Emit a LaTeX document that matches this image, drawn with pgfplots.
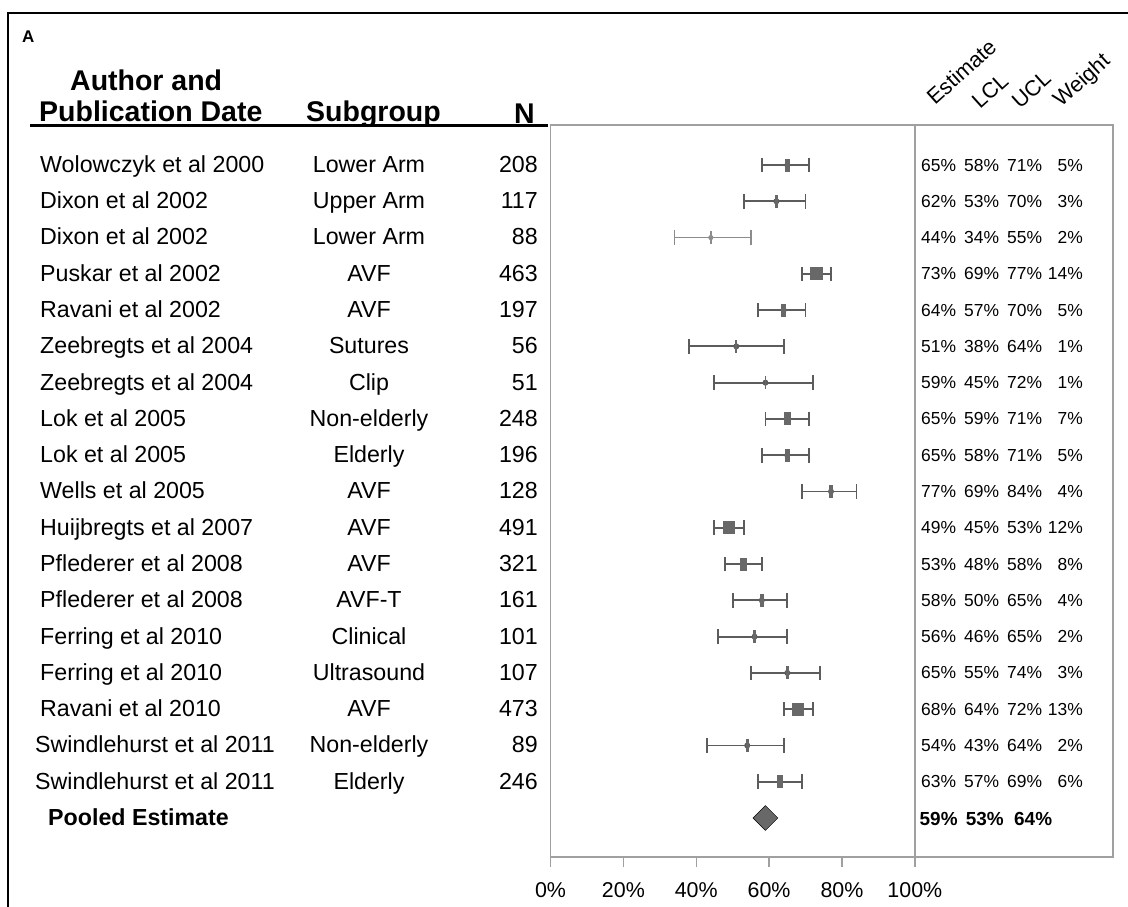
\documentclass[border=0pt]{standalone}
\usepackage{pgfplots}
\pgfplotsset{compat=1.18}
\usepackage{pgfplotstable}
\usepackage{fontspec}
\setmainfont{Liberation Sans}

\definecolor{barc}{HTML}{5C5C5C}
\definecolor{faintc}{HTML}{8C8C8C}
\definecolor{mkc}{HTML}{686868}
\definecolor{boxc}{HTML}{A0A0A0}

\newcommand\rowfont{\fontsize{23.3}{27}\selectfont}
\newcommand\headfont{\fontsize{28.6}{33}\selectfont\bfseries}
\newcommand\valfont{\fontsize{17.5}{20}\selectfont}
\newcommand\tickfont{\fontsize{21.5}{25}\selectfont}
\newcommand\rotfont{\fontsize{21.8}{25}\selectfont}

% box marker: width follows the study weight, height is fixed
\pgfdeclareplotmark{wbox}{%
  \pgfpathrectangle{\pgfpoint{-\pgfplotmarksize}{-6.5bp}}{\pgfpoint{2\pgfplotmarksize}{13bp}}%
  \pgfusepathqfill}

% row: position from top; est/lcl/ucl in percent; w: weight in percent
\pgfplotstableread{
row est lcl ucl w
1  65 58 71 5
2  62 53 70 3
4  73 69 77 14
5  64 57 70 5
6  51 38 64 1
7  59 45 72 1
8  65 59 71 7
9  65 58 71 5
10 77 69 84 4
11 49 45 53 12
12 53 48 58 8
13 58 50 65 4
14 56 46 65 2
15 65 55 74 3
16 68 64 72 13
17 54 43 64 2
18 63 57 69 6
}\studies

\pgfplotstableread{
row est lcl ucl w
3 44 34 55 2
}\faintstudy

\pgfplotstableread{
row est lcl ucl
19 59 53 64
}\pooled

\begin{document}
\begin{tikzpicture}
\useasboundingbox (0,0) rectangle (1128bp,-907bp);

% outer frame
\draw[line width=2.8bp] (8bp,-1000bp) -- (8bp,-13bp) -- (1200bp,-13bp);

\node[anchor=base west, inner sep=0, font=\fontsize{17}{20}\selectfont\bfseries] at (22bp,-42bp) {A};

% column headers
\node[anchor=base west, inner sep=0, font=\headfont] at (70bp,-90bp) {Author and};
\node[anchor=base west, inner sep=0, font=\headfont] at (39bp,-121.7bp) {Publication Date};
\node[anchor=base west, inner sep=0, font=\headfont] at (306bp,-121.7bp) {Subgroup};
\node[anchor=base west, inner sep=0, font=\headfont] at (514bp,-123bp) {N};
\draw[line width=2.2bp] (30bp,-125.5bp) -- (548bp,-125.5bp);

\node[rotate=42, anchor=base west, inner sep=0, font=\rotfont] at (935bp,-106bp) {Estimate};
\node[rotate=42, anchor=base west, inner sep=0, font=\rotfont] at (980bp,-110bp) {LCL};
\node[rotate=42, anchor=base west, inner sep=0, font=\rotfont] at (1020bp,-110bp) {UCL};
\node[rotate=42, anchor=base west, inner sep=0, font=\rotfont] at (1061bp,-108bp) {Weight};

\begin{axis}[
  at={(550.5bp,-857bp)}, anchor=south west,
  scale only axis, width=562.5bp, height=732bp,
  xmin=0, xmax=154.4, ymin=-0.1025, ymax=20.075, y dir=reverse,
  axis line style={boxc, line width=1.4bp},
  xtick={0,20,40,60,80,100},
  xticklabels={0\%,20\%,40\%,60\%,80\%,100\%},
  ytick=\empty, tick pos=left, tick align=outside,
  major tick length=10bp,
  tick style={boxc, line width=1.4bp},
  xticklabel style={font=\tickfont, yshift=-12bp},
  clip=false,
]
% separator between the plot and the value columns
\draw[boxc, line width=1.4bp] (axis cs:100,-0.1025) -- (axis cs:100,20.075);

% confidence intervals
\addplot[only marks, mark=none, barc, line width=1.9bp,
  error bars/.cd, x dir=both, x explicit, error mark=|,
  error bar style={draw=barc, line width=1.9bp},
  error mark options={draw=barc, line width=1.9bp, mark size=7.3bp}]
  table[x=est, y=row,
        x error plus expr=\thisrow{ucl}-\thisrow{est},
        x error minus expr=\thisrow{est}-\thisrow{lcl}] {\studies};

\addplot[only marks, mark=none, faintc, line width=1.1bp,
  error bars/.cd, x dir=both, x explicit, error mark=|,
  error bar style={draw=faintc, line width=1.1bp},
  error mark options={draw=faintc, line width=1.6bp, mark size=7.3bp}]
  table[x=est, y=row,
        x error plus expr=\thisrow{ucl}-\thisrow{est},
        x error minus expr=\thisrow{est}-\thisrow{lcl}] {\faintstudy};

% point estimates, box width by weight
\addplot[scatter, only marks, mark=wbox,
  scatter/use mapped color={draw=none, fill=mkc},
  visualization depends on={\thisrow{w} \as \wt},
  scatter/@pre marker code/.append style={/tikz/mark size={0.425*\wt+0.5}}]
  table[x=est, y=row] {\studies};

\addplot[only marks, mark=wbox, mark size=0.9, mark options={fill=faintc, draw=none}]
  table[x=est, y=row] {\faintstudy};

% pooled estimate
\addplot[only marks, mark=square*, mark size=8.8bp,
  mark options={rotate=45, fill=mkc, draw=none}]
  table[x=est, y=row] {\pooled};
\end{axis}

% study labels, one row each
\foreach \i/\a/\s/\n in {
  1/Wolowczyk et al 2000/Lower Arm/208,
  2/Dixon et al 2002/Upper Arm/117,
  3/Dixon et al 2002/Lower Arm/88,
  4/Puskar et al 2002/AVF/463,
  5/Ravani et al 2002/AVF/197,
  6/Zeebregts et al 2004/Sutures/56,
  7/Zeebregts et al 2004/Clip/51,
  8/Lok et al 2005/Non-elderly/248,
  9/Lok et al 2005/Elderly/196,
  10/Wells et al 2005/AVF/128,
  11/Huijbregts et al 2007/AVF/491,
  12/Pflederer et al 2008/AVF/321,
  13/Pflederer et al 2008/AVF-T/161,
  14/Ferring et al 2010/Clinical/101,
  15/Ferring et al 2010/Ultrasound/107,
  16/Ravani et al 2010/AVF/473,
  17/Swindlehurst et al 2011/Non-elderly/89,
  18/Swindlehurst et al 2011/Elderly/246}{
  \pgfmathsetmacro\yy{-(165+(\i-1)*36.28)-7.4}
  \pgfmathsetmacro\xa{ifthenelse(\i>16,35,40)}
  \node[anchor=base west, inner sep=0, font=\rowfont] at (\xa bp,\yy bp) {\a};
  \node[anchor=base, inner sep=0, font=\rowfont] at (369bp,\yy bp) {\s};
  \node[anchor=base east, inner sep=0, font=\rowfont] at (538bp,\yy bp) {\n};
}
\node[anchor=base west, inner sep=0, font=\rowfont\bfseries] at (48bp,-825bp) {Pooled Estimate};

% value columns
\foreach \i/\e/\l/\u/\w in {
  1/65/58/71/5, 2/62/53/70/3, 3/44/34/55/2, 4/73/69/77/14,
  5/64/57/70/5, 6/51/38/64/1, 7/59/45/72/1, 8/65/59/71/7,
  9/65/58/71/5, 10/77/69/84/4, 11/49/45/53/12, 12/53/48/58/8,
  13/58/50/65/4, 14/56/46/65/2, 15/65/55/74/3, 16/68/64/72/13,
  17/54/43/64/2, 18/63/57/69/6}{
  \pgfmathsetmacro\yy{-(165+(\i-1)*36.28)-6}
  \node[anchor=base west, inner sep=0, font=\valfont] at (921bp,\yy bp) {\e\%};
  \node[anchor=base west, inner sep=0, font=\valfont] at (964bp,\yy bp) {\l\%};
  \node[anchor=base west, inner sep=0, font=\valfont] at (1007bp,\yy bp) {\u\%};
  \node[anchor=base east, inner sep=0, font=\valfont] at (1083bp,\yy bp) {\w\%};
}
\node[anchor=base west, inner sep=0, font=\fontsize{19}{22}\selectfont\bfseries] at (919.5bp,-825bp) {59\%};
\node[anchor=base west, inner sep=0, font=\fontsize{19}{22}\selectfont\bfseries] at (965.6bp,-825bp) {53\%};
\node[anchor=base west, inner sep=0, font=\fontsize{19}{22}\selectfont\bfseries] at (1014bp,-825bp) {64\%};
\end{tikzpicture}
\end{document}
